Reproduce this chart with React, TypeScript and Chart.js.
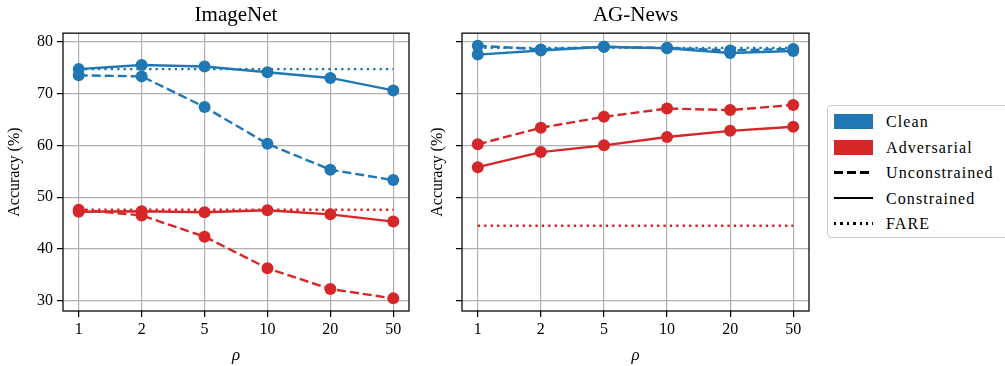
import React, { useEffect, useRef } from 'react';
import { Chart, registerables } from 'chart.js';

Chart.register(...registerables);

// ---- data ----
const rhoLabels = ['1', '2', '5', '10', '20', '50'];
const yTickValues = [30, 40, 50, 60, 70, 80];

const imagenetCleanUnconstrained = [73.5, 73.3, 67.4, 60.3, 55.3, 53.3];
const imagenetCleanConstrained = [74.7, 75.5, 75.2, 74.1, 73.0, 70.6];
const imagenetCleanFare = [74.7, 74.7, 74.7, 74.7, 74.7, 74.7];
const imagenetAdvUnconstrained = [47.6, 46.5, 42.4, 36.3, 32.3, 30.5];
const imagenetAdvConstrained = [47.2, 47.3, 47.1, 47.5, 46.7, 45.3];
const imagenetAdvFare = [47.6, 47.6, 47.6, 47.6, 47.6, 47.6];

const agnewsCleanUnconstrained = [79.2, 78.5, 79.0, 78.8, 78.3, 78.6];
const agnewsCleanConstrained = [77.5, 78.3, 79.0, 78.7, 77.8, 78.2];
const agnewsCleanFare = [78.8, 78.8, 78.8, 78.8, 78.8, 78.8];
const agnewsAdvUnconstrained = [60.2, 63.4, 65.5, 67.1, 66.8, 67.8];
const agnewsAdvConstrained = [55.8, 58.7, 60.0, 61.6, 62.8, 63.6];
const agnewsAdvFare = [44.5, 44.5, 44.5, 44.5, 44.5, 44.5];

const BLUE = '#1f77b4';
const RED = '#d62728';
const FONT = "'Liberation Serif', 'DejaVu Serif', serif";

const allValues = [
  ...imagenetCleanUnconstrained, ...imagenetCleanConstrained, ...imagenetCleanFare,
  ...imagenetAdvUnconstrained, ...imagenetAdvConstrained, ...imagenetAdvFare,
  ...agnewsCleanUnconstrained, ...agnewsCleanConstrained, ...agnewsCleanFare,
  ...agnewsAdvUnconstrained, ...agnewsAdvConstrained, ...agnewsAdvFare,
];
const dataMin = Math.min(...allValues);
const dataMax = Math.max(...allValues);
const yMin = dataMin - 0.05 * (dataMax - dataMin);
const yMax = dataMax + 0.05 * (dataMax - dataMin);

const DASHED = [9, 4];
const DOTTED = [2.4, 4];

function series(values: number[], color: string, dash: number[], points: boolean) {
  return {
    data: values.map((y, i) => ({ x: i, y })),
    borderColor: color,
    backgroundColor: color,
    borderWidth: 2.4,
    borderDash: dash,
    pointRadius: points ? 6 : 0,
    pointHoverRadius: points ? 6 : 0,
    pointBorderWidth: 0,
    pointBackgroundColor: color,
    tension: 0,
    clip: false as any,
  };
}

const framePlugin = {
  id: 'frame',
  afterDatasetsDraw(chart: any) {
    const { ctx, chartArea: a } = chart;
    ctx.save();
    ctx.strokeStyle = '#000';
    ctx.lineWidth = 1.25;
    ctx.setLineDash([]);
    ctx.strokeRect(a.left, a.top, a.right - a.left, a.bottom - a.top);
    ctx.restore();
  },
};

function makeConfig(
  title: string,
  datasets: any[],
  yAxisWidth: number,
  showYTickLabels: boolean,
  yTitlePad: number,
): any {
  const tickFont = { family: FONT, size: 16 };
  return {
    type: 'line',
    data: { datasets },
    plugins: [framePlugin],
    options: {
      animation: false,
      responsive: false,
      events: [],
      layout: { padding: { left: 0, right: 11, top: 0, bottom: 0 } },
      plugins: {
        legend: { display: false },
        tooltip: { enabled: false },
        title: {
          display: true,
          text: title,
          fullSize: false,
          color: '#000',
          font: { family: FONT, size: 21, weight: 'normal', lineHeight: 1.15 },
          padding: { top: 3, bottom: 6 },
        },
      },
      scales: {
        x: {
          type: 'linear',
          min: -0.25,
          max: 5.25,
          afterBuildTicks: (s: any) => {
            s.ticks = rhoLabels.map((_, i) => ({ value: i }));
          },
          afterFit: (s: any) => {
            s.height = 55;
          },
          ticks: {
            callback: (v: number) => rhoLabels[Math.round(v)] ?? '',
            color: '#000',
            font: tickFont,
            padding: 3,
            autoSkip: false,
            maxRotation: 0,
          },
          grid: { color: '#b0b0b0', lineWidth: 1.2, tickColor: '#000', tickLength: 6, tickWidth: 1.25 },
          border: { display: false },
          title: {
            display: true,
            text: 'ρ',
            color: '#000',
            font: { family: FONT, size: 17, style: 'italic' },
            padding: { top: 0, bottom: 0 },
          },
        },
        y: {
          type: 'linear',
          min: yMin,
          max: yMax,
          afterBuildTicks: (s: any) => {
            s.ticks = yTickValues.map((v) => ({ value: v }));
          },
          afterFit: (s: any) => {
            s.width = yAxisWidth;
          },
          ticks: {
            color: showYTickLabels ? '#000' : 'rgba(0,0,0,0)',
            font: tickFont,
            padding: 4,
          },
          grid: { color: '#b0b0b0', lineWidth: 1.2, tickColor: '#000', tickLength: 6, tickWidth: 1.25 },
          border: { display: false },
          title: {
            display: true,
            text: 'Accuracy (%)',
            color: '#000',
            font: { family: FONT, size: 16 },
            padding: { top: yTitlePad, bottom: 0 },
          },
        },
      },
    },
  };
}

function Panel(props: {
  left: number;
  width: number;
  title: string;
  datasets: any[];
  yAxisWidth: number;
  showYTickLabels: boolean;
  yTitlePad: number;
}) {
  const ref = useRef<HTMLCanvasElement | null>(null);
  useEffect(() => {
    if (!ref.current) return;
    const chart = new Chart(
      ref.current,
      makeConfig(props.title, props.datasets, props.yAxisWidth, props.showYTickLabels, props.yTitlePad),
    );
    return () => chart.destroy();
  }, []);
  return (
    <canvas
      ref={ref}
      width={props.width}
      height={366}
      style={{ position: 'absolute', left: props.left, top: 0, width: props.width, height: 366 }}
    />
  );
}

const legendItems = [
  { label: 'Clean', kind: 'patch', color: BLUE },
  { label: 'Adversarial', kind: 'patch', color: RED },
  { label: 'Unconstrained', kind: 'dashed', color: '#000' },
  { label: 'Constrained', kind: 'solid', color: '#000' },
  { label: 'FARE', kind: 'dotted', color: '#000' },
];

function Handle({ kind, color }: { kind: string; color: string }) {
  const base: React.CSSProperties = { position: 'absolute', left: 6, width: 39 };
  if (kind === 'patch') {
    return <div style={{ ...base, top: 5, height: 15, background: color }} />;
  }
  let bg = color;
  if (kind === 'dashed') bg = `repeating-linear-gradient(to right, ${color} 0 9px, transparent 9px 13px)`;
  if (kind === 'dotted') bg = `repeating-linear-gradient(to right, ${color} 0 2.4px, transparent 2.4px 6.4px)`;
  return <div style={{ ...base, top: 11.3, height: 2.4, background: bg }} />;
}

export default function App() {
  const imagenetDatasets = [
    series(imagenetCleanUnconstrained, BLUE, DASHED, true),
    series(imagenetCleanConstrained, BLUE, [], true),
    series(imagenetCleanFare, BLUE, DOTTED, false),
    series(imagenetAdvUnconstrained, RED, DASHED, true),
    series(imagenetAdvConstrained, RED, [], true),
    series(imagenetAdvFare, RED, DOTTED, false),
  ];
  const agnewsDatasets = [
    series(agnewsCleanUnconstrained, BLUE, DASHED, true),
    series(agnewsCleanConstrained, BLUE, [], true),
    series(agnewsCleanFare, BLUE, DOTTED, false),
    series(agnewsAdvUnconstrained, RED, DASHED, true),
    series(agnewsAdvConstrained, RED, [], true),
    series(agnewsAdvFare, RED, DOTTED, false),
  ];
  return (
    <div
      style={{
        position: 'fixed',
        left: 0,
        top: 0,
        width: 1005,
        height: 366,
        background: '#fff',
        overflow: 'hidden',
      }}
    >
      <Panel left={0} width={420} title="ImageNet" datasets={imagenetDatasets} yAxisWidth={63} showYTickLabels={true} yTitlePad={5} />
      <Panel left={410} width={410} title="AG-News" datasets={agnewsDatasets} yAxisWidth={52} showYTickLabels={false} yTitlePad={18} />
      <div
        style={{
          position: 'absolute',
          left: 827,
          top: 105,
          width: 190,
          height: 133,
          border: '1px solid #cccccc',
          borderRadius: 4,
          background: '#fff',
          boxSizing: 'border-box',
          fontFamily: FONT,
          fontSize: 16,
          letterSpacing: '1.1px',
          color: '#000',
        }}
      >
        {legendItems.map((it, i) => (
          <div key={it.label} style={{ position: 'absolute', left: 0, top: 3 + i * 25.5, height: 25, width: 190 }}>
            <Handle kind={it.kind} color={it.color} />
            <span style={{ position: 'absolute', left: 58, top: 3, lineHeight: '19px', whiteSpace: 'nowrap' }}>{it.label}</span>
          </div>
        ))}
      </div>
    </div>
  );
}
